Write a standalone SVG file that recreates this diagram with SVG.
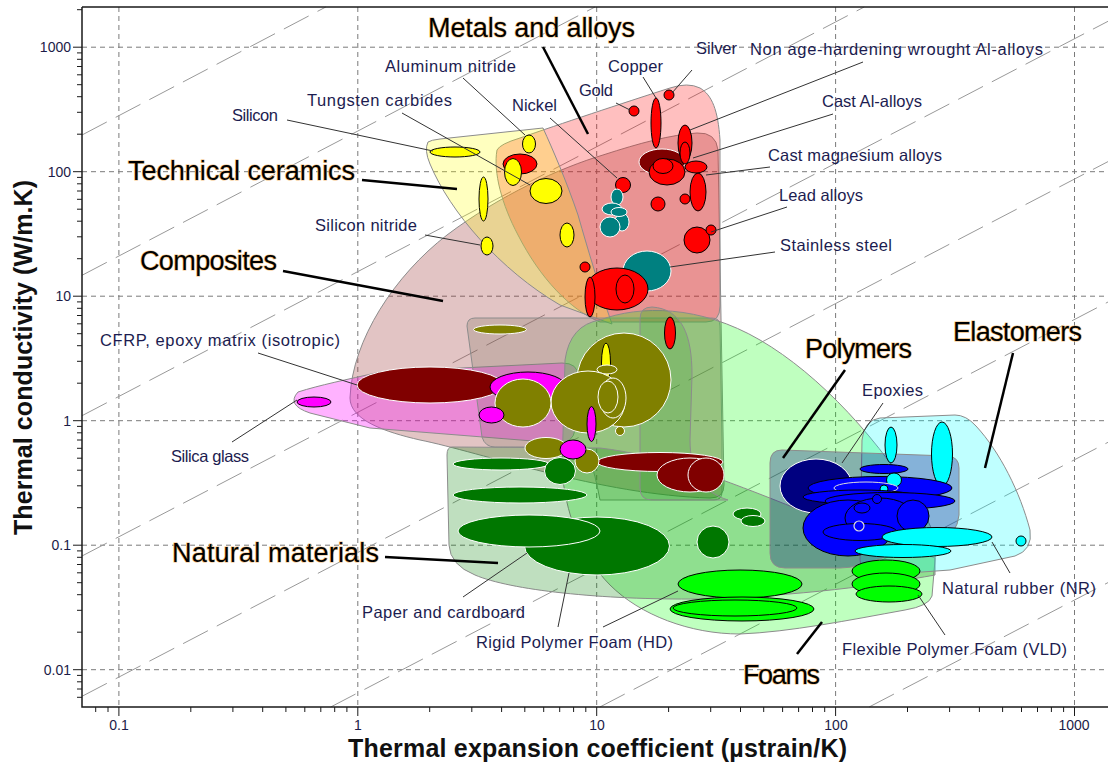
<svg xmlns="http://www.w3.org/2000/svg" width="1108" height="765" viewBox="0 0 1108 765">
<style>
.grid{stroke:#7a7a7a;stroke-width:1;stroke-dasharray:5,4;fill:none}
.guide{stroke:#999;stroke-width:1;stroke-dasharray:28,10;fill:none}
.ax{stroke:#1a1a1a;stroke-width:1.5;fill:none}
.tk{stroke:#1a1a1a;stroke-width:1}
.tl{font-family:"Liberation Sans",Arial,sans-serif;font-size:14px;fill:#1c1c48}
.title{font-family:"Liberation Sans",Arial,sans-serif;font-size:25px;font-weight:bold;fill:#111}
.env{stroke:#8c8c8c;stroke-width:1}
.r{fill:#ff0000;stroke:#000;stroke-width:1}
.mr{fill:#800000;stroke:#fff;stroke-width:1}
.y{fill:#ffff00;stroke:#000;stroke-width:1}
.te{fill:#008080;stroke:#fff;stroke-width:1}
.ol{fill:#808000;stroke:#fff;stroke-width:1}
.mg{fill:#ff00ff;stroke:#000;stroke-width:1}
.dg{fill:#007700;stroke:#fff;stroke-width:1}
.fg{fill:#00ff00;stroke:#000;stroke-width:1}
.b{fill:#0000ff;stroke:#000;stroke-width:1}
.nv{fill:#000080;stroke:#fff;stroke-width:1}
.c{fill:#00ffff;stroke:#000;stroke-width:1}
.lead{stroke:#000;stroke-width:2.5;fill:none}
.thin{stroke:#333;stroke-width:1;fill:none}
.g{font-family:"Liberation Sans",Arial,sans-serif;font-size:27px;fill:#000;stroke:#f3c07c;stroke-width:1.2;paint-order:stroke}
.s{font-family:"Liberation Sans",Arial,sans-serif;font-size:16.5px;fill:#1c1c50}
</style>
<rect x="0" y="0" width="1108" height="765" fill="#fff"/>

<g id="grid">
<path class="grid" d="M118.9,7V707M357.8,7V707M596.7,7V707M835.6,7V707M1074.5,7V707"/>
<path class="grid" d="M82,47.2H1108M82,171.7H1108M82,296.2H1108M82,420.7H1108M82,545.2H1108M82,669.7H1108"/>
</g>
<g id="guides">
<path class="guide" d="M82,135L325.8,7M82,275.3L595,7M82,415.7L864.2,7M82,556L1108,21.3M82,696.3L1108,161.6M330.7,707L1108,302M599.9,707L1108,442.3M869.1,707L1108,582.6"/>
</g>

<g id="envelopes">
<path id="env-composites" class="env" fill="rgb(160,60,60)" fill-opacity="0.3" d="M350,398 C352,340 395,275 447,235 C500,195 560,168 603,155 C640,143 670,135 697,133 Q716,132 718,150 L724,485 Q724,498 710,498 C600,495 480,452 420,440 C385,432 350,420 350,398 Z"/>
<path id="env-metals" class="env" fill="#ff0000" fill-opacity="0.25" d="M497,150 C493,172 502,205 518,235 C540,278 570,310 600,322 L706,322 Q720,322 720,306 L720,140 C718,110 712,95 700,88 Q688,82 670,88 C620,104 560,124 520,138 Q500,144 497,150 Z"/>
<path id="env-ceramics" class="env" fill="#ffff00" fill-opacity="0.25" d="M428,142 Q424,150 430,164 C450,212 500,270 560,305 L612,324 C600,290 588,250 578,215 C566,180 553,150 543,128 L440,139 Q431,140 428,142 Z"/>
<path id="env-glass" class="env" fill="#ff00ff" fill-opacity="0.3" d="M298,392 C320,385 345,380 380,372 L562,363 Q578,363 578,376 L575,430 Q573,443 558,443 L370,428 L310,413 Q286,405 298,392 Z"/>
<path id="env-compsub" class="env" fill="rgb(100,95,70)" fill-opacity="0.2" d="M475,318 L712,318 Q720,318 720,326 L722,440 L722,492 Q722,500 714,500 L600,500 Q590,447 580,447 L495,447 Q485,447 482,437 L467,326 Q467,318 475,318 Z"/>
<path id="env-foams" class="env" fill="#00ff00" fill-opacity="0.25" d="M600,320 C640,305 700,305 760,340 C820,375 880,440 925,515 Q938,538 935,560 L932,596 Q929,606 905,610 C850,620 790,632 740,634 C690,634 640,615 610,585 C580,555 565,510 562,470 L565,360 Q570,325 600,320 Z"/>
<path id="env-natural" class="env" fill="#008000" fill-opacity="0.25" d="M452,447 L600,448 C660,455 720,478 800,510 C860,532 910,548 935,558 L935,575 C880,585 800,596 700,599 C600,600 510,590 475,575 Q450,565 449,545 L447,455 Q447,447 452,447 Z"/>
<path id="env-foamsub" class="env" fill="#008000" fill-opacity="0.13" d="M652,307 C682,309 692,335 692,375 L690,440 C690,472 702,492 728,500 L652,500 Q640,500 640,488 L640,319 Q640,307 652,307 Z"/>
<path id="env-elastomers" class="env" fill="#00ffff" fill-opacity="0.25" d="M880,418 L955,415 Q966,415 976,426 C1000,452 1020,492 1030,530 Q1033,550 1015,556 L950,570 L880,575 Q860,575 860,560 L862,440 Q864,420 880,418 Z"/>
<path id="env-polymers" class="env" fill="#000080" fill-opacity="0.3" d="M782,450 L948,456 Q959,457 959,468 L959,515 Q957,535 940,540 L860,565 Q850,568 840,568 L785,568 Q770,568 770,553 L770,463 Q770,450 782,450 Z"/>
</g>

<g id="bubbles">
<ellipse id="silicon" class="y" cx="455" cy="152" rx="25" ry="5"/>
<ellipse class="y" cx="483.5" cy="199" rx="4.5" ry="22"/>
<ellipse id="silicon-nitride" class="y" cx="487" cy="246" rx="6" ry="9"/>
<ellipse class="y" cx="567" cy="235" rx="7" ry="12"/>
<ellipse class="r" cx="520" cy="164" rx="17" ry="10"/>
<ellipse id="aln" class="y" cx="529" cy="144" rx="6.5" ry="9"/>
<ellipse class="y" cx="513" cy="172" rx="8.5" ry="13.5"/>
<ellipse id="wc" class="y" cx="546" cy="191" rx="16" ry="12.5"/>
<circle id="gold" class="r" cx="634" cy="111" r="5"/>
<circle id="silver" class="r" cx="669" cy="95" r="5"/>
<circle id="nickel" class="r" cx="623" cy="185" r="7.5"/>
<ellipse id="copper" class="r" cx="656" cy="123" rx="5" ry="25"/>
<ellipse class="mr" cx="662" cy="162" rx="23" ry="13"/>
<ellipse class="r" cx="667" cy="172" rx="18" ry="13"/>
<ellipse class="r" cx="663" cy="166" rx="10" ry="7.5"/>
<ellipse class="r" cx="685" cy="143" rx="7" ry="18"/>
<ellipse class="r" cx="685" cy="153" rx="5" ry="11"/>
<ellipse class="r" cx="698" cy="192" rx="8" ry="19"/>
<ellipse class="r" cx="696" cy="167" rx="11" ry="6"/>
<circle class="r" cx="658" cy="204" r="7"/>
<circle class="r" cx="685" cy="199" r="5"/>
<ellipse class="te" cx="617" cy="197" rx="6" ry="8"/>
<ellipse class="te" cx="612" cy="209" rx="10" ry="6"/>
<ellipse class="te" cx="622" cy="222" rx="7" ry="9"/>
<circle class="te" cx="610" cy="227" r="10"/>
<ellipse class="te" cx="619" cy="212" rx="8" ry="4.5"/>
<circle class="r" cx="585" cy="267" r="5"/>
<ellipse id="stainless" class="te" cx="647" cy="271" rx="24" ry="20"/>
<ellipse class="r" cx="617" cy="289" rx="31" ry="21"/>
<ellipse class="r" cx="625" cy="289" rx="9" ry="14"/>
<ellipse class="r" cx="590" cy="297" rx="5" ry="20"/>
<circle id="lead" class="r" cx="697" cy="240" r="13"/>
<circle class="r" cx="711" cy="230" r="5"/>
<ellipse class="r" cx="670" cy="333" rx="5.5" ry="16"/>
<ellipse class="ol" cx="500" cy="329.5" rx="26.5" ry="4.5"/>
<ellipse id="cfrp" class="mr" cx="430" cy="385" rx="73" ry="18"/>
<ellipse class="mg" cx="528" cy="387" rx="38" ry="15"/>
<ellipse class="ol" cx="624" cy="380" rx="47" ry="47"/>
<ellipse class="y" cx="606" cy="363" rx="4.5" ry="20"/>
<ellipse class="ol" cx="607" cy="369.5" rx="10" ry="4.5"/>
<ellipse class="ol" cx="588" cy="402" rx="37" ry="31"/>
<ellipse class="ol" cx="523" cy="403" rx="28" ry="24"/>
<ellipse class="ol" cx="613" cy="398" rx="13" ry="20"/>
<ellipse class="ol" cx="608" cy="397" rx="10" ry="16"/>
<circle class="ol" cx="620" cy="431" r="4.5"/>
<ellipse class="mg" cx="591.5" cy="424" rx="4.5" ry="17.5"/>
<ellipse class="mg" cx="491.5" cy="415" rx="12.5" ry="8"/>
<ellipse id="silica" class="mg" cx="314" cy="402" rx="17" ry="5"/>
<ellipse class="ol" cx="546" cy="448" rx="21" ry="10.5"/>
<ellipse class="mr" cx="660" cy="462" rx="63" ry="9.5"/>
<ellipse class="mr" cx="690" cy="475" rx="33" ry="17"/>
<ellipse class="mr" cx="706" cy="475" rx="18" ry="17"/>
<circle class="ol" cx="587" cy="461" r="12"/>
<ellipse class="mg" cx="573" cy="449.5" rx="13" ry="9.5"/>
<ellipse class="dg" cx="501" cy="464" rx="48" ry="6"/>
<ellipse class="dg" cx="560" cy="471" rx="15.5" ry="13.5"/>
<ellipse class="dg" cx="520" cy="495" rx="67" ry="8"/>
<ellipse id="paper" class="dg" cx="597" cy="546" rx="72.5" ry="29"/>
<ellipse class="dg" cx="529" cy="531" rx="71" ry="16"/>
<circle class="dg" cx="713" cy="542" r="16"/>
<ellipse class="dg" cx="747" cy="514" rx="14" ry="6"/>
<ellipse class="dg" cx="753" cy="521" rx="12" ry="5.5"/>
<ellipse id="rigid-foam" class="fg" cx="740" cy="584" rx="62" ry="14"/>
<ellipse class="fg" cx="742" cy="609" rx="72" ry="12"/>
<ellipse class="fg" cx="735" cy="608" rx="62" ry="8"/>
<ellipse class="fg" cx="886" cy="571" rx="34" ry="11"/>
<ellipse class="fg" cx="886" cy="584" rx="34" ry="11"/>
<ellipse id="flex-foam" class="fg" cx="889" cy="594" rx="33" ry="8"/>
<ellipse id="epoxy" class="nv" cx="816" cy="486" rx="36" ry="27"/>
<ellipse class="b" cx="884" cy="469" rx="24" ry="4.5"/>
<ellipse class="c" cx="891" cy="445" rx="6" ry="18"/>
<ellipse class="c" cx="942" cy="454" rx="10.5" ry="32"/>
<ellipse class="b" cx="880" cy="488" rx="72" ry="11.5"/>
<ellipse class="c" cx="894" cy="480" rx="7.5" ry="7"/>
<ellipse fill="#0000ff" stroke="#ddd" stroke-width="1" cx="866" cy="488" rx="32" ry="6"/>
<circle class="c" cx="884" cy="489" r="4"/>
<ellipse class="b" cx="860" cy="497" rx="57" ry="7"/>
<ellipse class="b" cx="890" cy="501" rx="65" ry="8.5"/>
<ellipse class="b" cx="848" cy="528" rx="45" ry="28"/>
<ellipse class="b" cx="880" cy="518" rx="35" ry="20"/>
<circle class="b" cx="913" cy="516" r="16"/>
<ellipse class="b" cx="862" cy="508" rx="8" ry="5"/>
<circle class="b" cx="877" cy="499" r="4.5"/>
<ellipse class="b" cx="860" cy="532" rx="37" ry="8.5"/>
<circle fill="#0000ff" stroke="#ddd" stroke-width="1.2" cx="859" cy="526" r="5"/>
<ellipse id="nr" class="c" cx="937" cy="537" rx="55" ry="9.5"/>
<ellipse class="c" cx="903" cy="551" rx="48" ry="6.5"/>
<circle class="c" cx="1021" cy="541" r="5"/>
</g>

<g id="connectors">
<path class="lead" d="M543,47L588,134"/>
<path class="lead" d="M362,180L457,189"/>
<path class="lead" d="M283,271L443,301"/>
<path class="lead" d="M845,370L783,458"/>
<path class="lead" d="M1013,353L985,468"/>
<path class="lead" d="M385,557L498,563"/>
<path class="lead" d="M797,654L822,622"/>
<path class="thin" d="M287,120L433,151"/>
<path class="thin" d="M402,113L530,185"/>
<path class="thin" d="M463,78L525,135"/>
<path class="thin" d="M550,118L617,178"/>
<path class="thin" d="M616,103L630,110"/>
<path class="thin" d="M643,77L656,98"/>
<path class="thin" d="M692,70L672,93"/>
<path class="thin" d="M863,62L690,130"/>
<path class="thin" d="M833,114L693,158"/>
<path class="thin" d="M770,167L706,175"/>
<path class="thin" d="M787,207L711,232"/>
<path class="thin" d="M775,252L670,267"/>
<path class="thin" d="M425,235L480,245"/>
<path class="thin" d="M258,353L357,385"/>
<path class="thin" d="M232,442L297,400"/>
<path class="thin" d="M883,403L842,463"/>
<path class="thin" d="M1010,573L992,542"/>
<path class="thin" d="M945,635L918,595"/>
<path class="thin" d="M558,627L569,573"/>
<path class="thin" d="M603,627L678,591"/>
<path class="thin" d="M463,597L527,553"/>
</g>

<g id="labels">
<text class="g" x="428" y="37" textLength="207">Metals and alloys</text>
<text class="g" x="128" y="180" textLength="227">Technical ceramics</text>
<text class="g" x="140" y="270" textLength="137">Composites</text>
<text class="g" x="805" y="358" textLength="107">Polymers</text>
<text class="g" x="953" y="341" textLength="129">Elastomers</text>
<text class="g" x="172" y="562" textLength="207">Natural materials</text>
<text class="g" x="743" y="684" textLength="77">Foams</text>
<text class="s" x="232" y="121" textLength="46">Silicon</text>
<text class="s" x="307" y="106" textLength="145">Tungsten carbides</text>
<text class="s" x="385" y="72" textLength="131">Aluminum nitride</text>
<text class="s" x="512" y="111" textLength="45">Nickel</text>
<text class="s" x="579" y="96" textLength="34">Gold</text>
<text class="s" x="608" y="72" textLength="55">Copper</text>
<text class="s" x="696" y="54" textLength="41">Silver</text>
<text class="s" x="750" y="55" textLength="293">Non age-hardening wrought Al-alloys</text>
<text class="s" x="822" y="107" textLength="100">Cast Al-alloys</text>
<text class="s" x="768" y="161" textLength="174">Cast magnesium alloys</text>
<text class="s" x="779" y="201" textLength="84">Lead alloys</text>
<text class="s" x="780" y="251" textLength="112">Stainless steel</text>
<text class="s" x="315" y="231" textLength="102">Silicon nitride</text>
<text class="s" x="100" y="346" textLength="240">CFRP, epoxy matrix (isotropic)</text>
<text class="s" x="171" y="462" textLength="78">Silica glass</text>
<text class="s" x="862" y="396" textLength="61">Epoxies</text>
<text class="s" x="942" y="594" textLength="154">Natural rubber (NR)</text>
<text class="s" x="842" y="655" textLength="225">Flexible Polymer Foam (VLD)</text>
<text class="s" x="476" y="648" textLength="197">Rigid Polymer Foam (HD)</text>
<text class="s" x="362" y="618" textLength="163">Paper and cardboard</text>
</g>

<g id="axes">
<path class="ax" d="M82,7H1108M82,7V707H1108"/>
<path class="tk" d="M73,669.7H82M73,545.2H82M73,420.7H82M73,296.2H82M73,171.7H82M73,47.2H82"/>
<path class="tk" d="M77,697.3H82M77,689H82M77,681.8H82M77,675.4H82M77,632.2H82M77,610.3H82M77,594.7H82M77,582.7H82M77,572.8H82M77,564.5H82M77,557.3H82M77,550.9H82M77,507.7H82M77,485.8H82M77,470.2H82M77,458.2H82M77,448.3H82M77,440H82M77,432.8H82M77,426.4H82M77,383.2H82M77,361.3H82M77,345.7H82M77,333.7H82M77,323.8H82M77,315.5H82M77,308.3H82M77,301.9H82M77,258.7H82M77,236.8H82M77,221.2H82M77,209.2H82M77,199.3H82M77,191H82M77,183.8H82M77,177.4H82M77,134.2H82M77,112.3H82M77,96.7H82M77,84.7H82M77,74.8H82M77,66.5H82M77,59.3H82M77,52.9H82M77,9.7H82"/>
<path class="tk" d="M118.9,707V716M357.8,707V716M596.7,707V716M835.6,707V716M1074.5,707V716"/>
<path class="tk" d="M95.7,707V712M108,707V712M190.8,707V712M232.9,707V712M262.7,707V712M285.9,707V712M304.8,707V712M320.8,707V712M334.7,707V712M346.9,707V712M429.7,707V712M471.8,707V712M501.6,707V712M524.8,707V712M543.7,707V712M559.7,707V712M573.6,707V712M585.8,707V712M668.6,707V712M710.7,707V712M740.5,707V712M763.7,707V712M782.6,707V712M798.6,707V712M812.5,707V712M824.7,707V712M907.5,707V712M949.6,707V712M979.4,707V712M1002.6,707V712M1021.5,707V712M1037.5,707V712M1051.4,707V712M1063.6,707V712"/>
<g class="tl" text-anchor="end">
<text x="71" y="52">1000</text>
<text x="71" y="177">100</text>
<text x="71" y="301">10</text>
<text x="71" y="426">1</text>
<text x="71" y="550">0.1</text>
<text x="71" y="675">0.01</text>
</g>
<g class="tl" text-anchor="middle">
<text x="119" y="730">0.1</text>
<text x="358" y="730">1</text>
<text x="597" y="730">10</text>
<text x="836" y="730">100</text>
<text x="1074" y="730">1000</text>
</g>
<text class="title" x="597.5" y="757" text-anchor="middle" textLength="499">Thermal expansion coefficient (µstrain/K)</text>
<text class="title" transform="translate(32,357.5) rotate(-90)" text-anchor="middle" textLength="355">Thermal conductivity (W/m.K)</text>
</g>
</svg>
